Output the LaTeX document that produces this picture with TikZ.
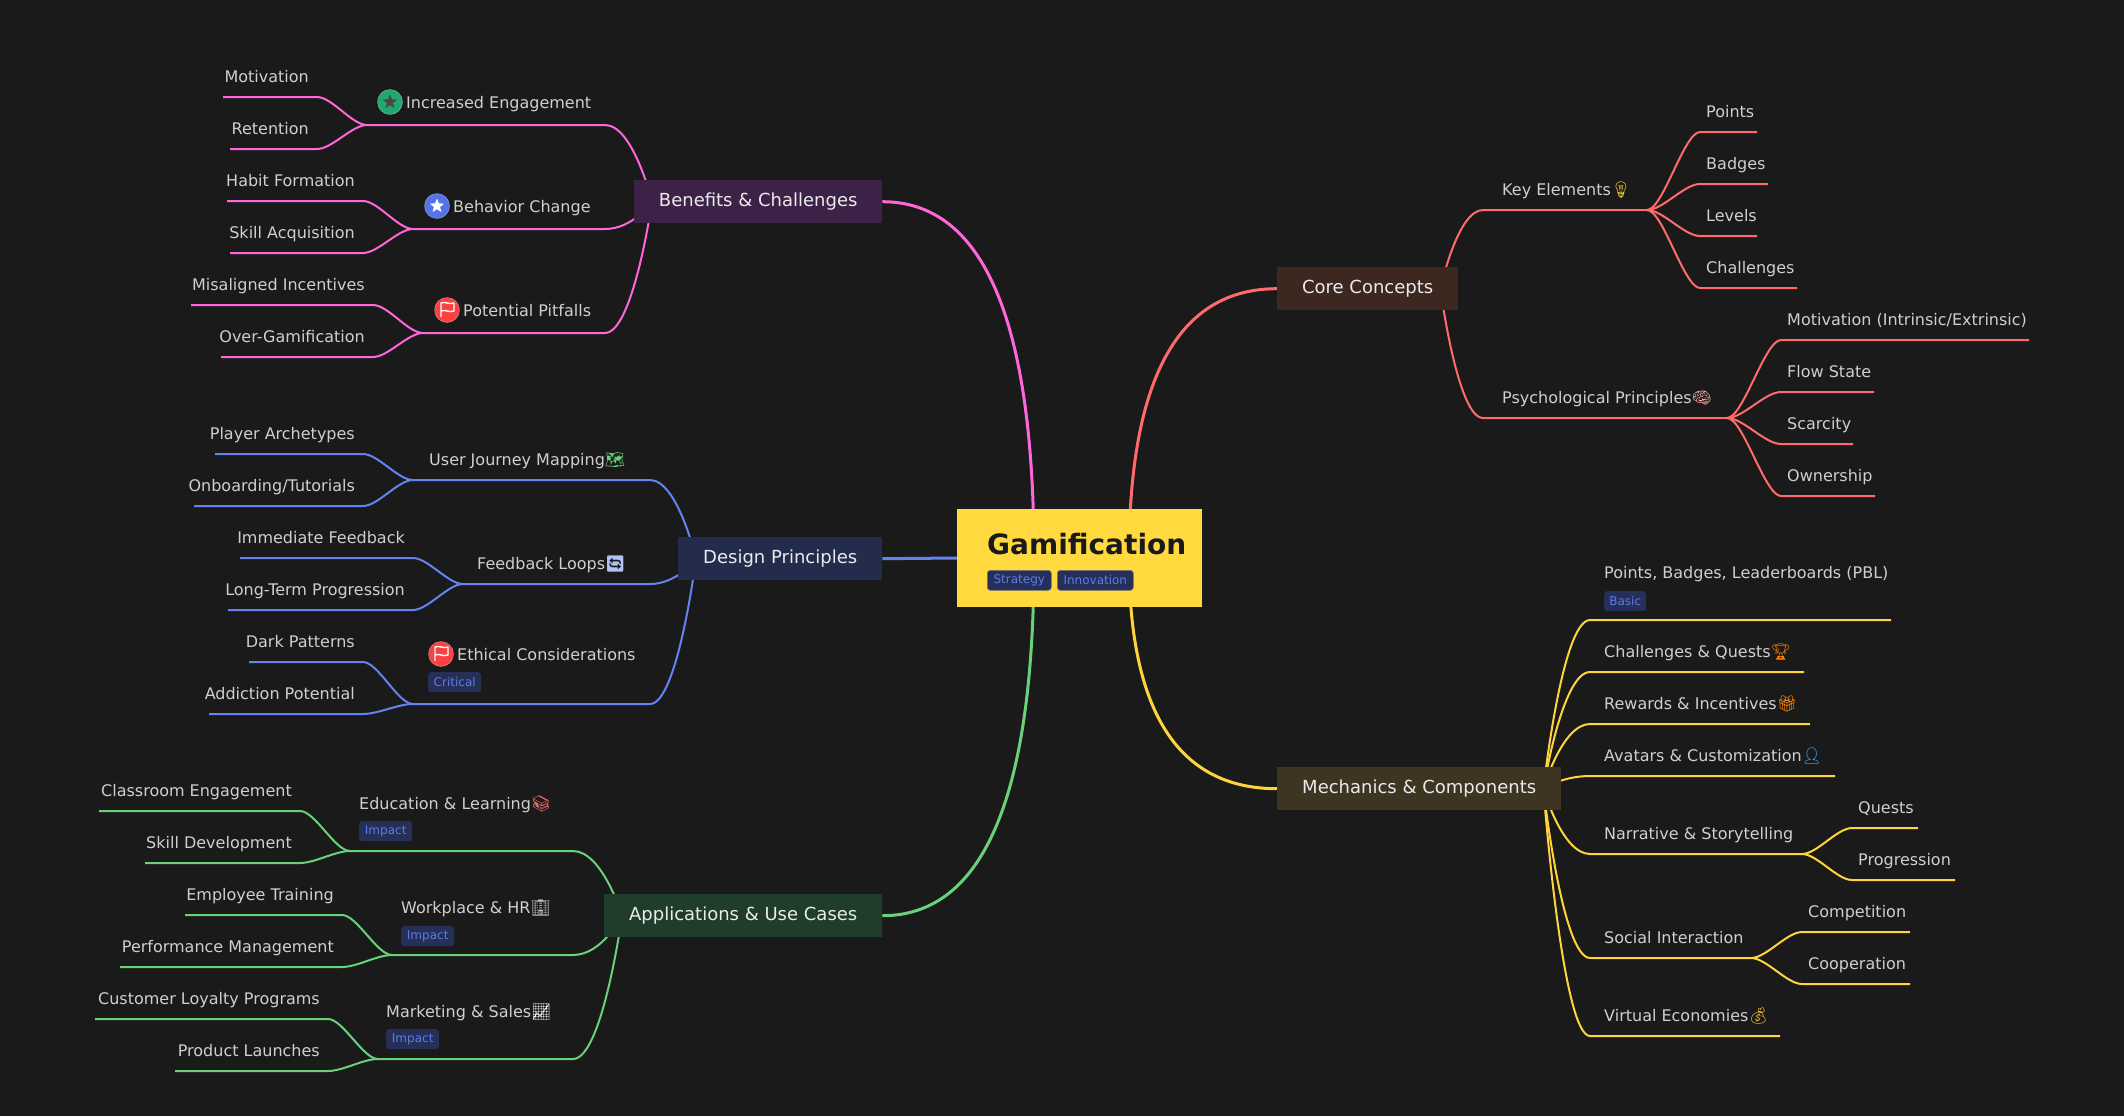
\documentclass[tikz,border=0pt]{standalone}
\usepackage{fontspec}
\setmainfont{DejaVu Sans}
\newfontfamily\emofont{Noto Emoji}
\usetikzlibrary{calc,shapes.geometric}
\definecolor{bgc}{HTML}{1A1A1A}
\definecolor{cred}{HTML}{FF6B6B}
\definecolor{cyel}{HTML}{FFD43B}
\definecolor{cpnk}{HTML}{FF66D9}
\definecolor{cblu}{HTML}{6384F0}
\definecolor{cgrn}{HTML}{69D17A}
\definecolor{rootc}{HTML}{FFD93D}
\definecolor{txtc}{HTML}{CFCFCF}
\definecolor{tagf}{HTML}{252F57}
\definecolor{tagt}{HTML}{5C7CEA}
\pgfdeclarelayer{back}\pgfdeclarelayer{links}
\pgfsetlayers{back,links,main}
\newcommand\emo[2]{{\emofont\textcolor{#1}{#2}}}
% #1 colour, #2 origin, #3 name, #4 curve end x, #5 y, #6 far end x
\newcommand\limb[6]{%
  \coordinate (#3c) at (#4,#5);\coordinate (#3) at (#6,#5);
  \begin{pgfonlayer}{links}
  \draw[sublink,#1] (#2) .. controls (#2) and ($(#2|-#3c)!0.4!(#3c)$) .. (#3c) -- (#3);
  \end{pgfonlayer}}
% #1 colour, #2 junction, #3 name, #4 curve end x, #5 y, #6 far end x, #7 text
\newcommand\twig[6]{%
  \coordinate (#3c) at (#4,#5);\coordinate (#3) at (#6,#5);
  \begin{pgfonlayer}{links}
  \draw[sublink,#1] (#2) .. controls ($(#2)!0.3!(#2-|#3c)$) and ($(#3c)!0.3!(#3c-|#2)$) .. (#3c) -- (#3);
  \end{pgfonlayer}}
\newcommand\twigL[7]{\twig{#1}{#2}{#3}{#4}{#5}{#6}%
  \node[lab,anchor=base east] (#3t) at ($(#3c)+(-8,-15)$) {#7};}
\newcommand\twigR[7]{\twig{#1}{#2}{#3}{#4}{#5}{#6}%
  \node[lab,anchor=base west] (#3t) at ($(#3c)+(6,-15)$) {#7};}
% quadratic main link
\newcommand\mainlink[3]{%
  \begin{pgfonlayer}{links}
  \draw[mainl,#1] (#2) .. controls ($(#2)!0.667!(#2|-#3)$) and ($(#3)!0.667!(#2|-#3)$) .. (#3);
  \end{pgfonlayer}}
\tikzset{
  x=1pt,y=-1pt,
  lab/.style={text=txtc,inner sep=0pt,font=\fontsize{16}{19}\selectfont},
  sublink/.style={line width=2pt,line cap=butt},
  mainl/.style={line width=3pt},
  topic/.style={rectangle,inner sep=0pt,text=white!92!black,font=\fontsize{18}{22}\selectfont,minimum height=43pt},
  tagn/.style={rectangle,rounded corners=3pt,fill=tagf,text=tagt,inner sep=0pt,minimum height=20pt,font=\fontsize{12}{14}\selectfont},
  icon/.style={circle,draw=white,draw opacity=.35,line width=.6pt,inner sep=0pt,minimum size=25pt},
  flagp/.style={draw=white,line width=1.4pt,line join=round,fill=none},
  starn/.style={star,star points=5,star point ratio=2.3,inner sep=0pt,minimum size=15pt}
}
\begin{document}
\begin{tikzpicture}
\useasboundingbox (0,0) rectangle (2124,1116);
\begin{pgfonlayer}{back}
\fill[bgc] (0,0) rectangle (2124,1116);
\end{pgfonlayer}
% ---- root
\node[rectangle,fill=rootc,minimum width=245pt,minimum height=98pt,inner sep=0pt] (root) at (1079.5,558) {};
\node[anchor=base west,inner sep=0pt,text=bgc,font=\fontsize{28}{32}\selectfont\bfseries] (title) at (987,554) {Gamification};
\node[tagn,draw=white!40!bgc,line width=.6pt,anchor=north west,minimum width=64pt] (tagS) at (987,570) {Strategy};
\node[tagn,draw=white!40!bgc,line width=.6pt,anchor=north west,minimum width=76pt] (tagI) at (1057,570) {Innovation};
\coordinate (rL) at (1034,558);
\coordinate (rR) at (1129,558);
% ---- main topics
\node[topic,fill=black!0!bgc,minimum width=181pt,anchor=north west,fill={rgb,255:red,61;green,40;blue,32}] (core) at (1277,267) {Core Concepts};
\node[topic,minimum width=284pt,anchor=north west,fill={rgb,255:red,61;green,52;blue,34}] (mech) at (1277,767) {Mechanics \& Components};
\node[topic,minimum width=248pt,anchor=north west,fill={rgb,255:red,61;green,34;blue,72}] (bene) at (634,180) {Benefits \& Challenges};
\node[topic,minimum width=204pt,anchor=north west,fill={rgb,255:red,36;green,44;blue,77}] (desi) at (678,537) {Design Principles};
\node[topic,minimum width=278pt,anchor=north west,fill={rgb,255:red,31;green,61;blue,42}] (appl) at (604,894) {Applications \& Use Cases};
\mainlink{cred}{rR}{core.west}
\mainlink{cyel}{rR}{mech.west}
\mainlink{cpnk}{rL}{bene.east}
\mainlink{cgrn}{rL}{appl.east}
\begin{pgfonlayer}{links}
\draw[mainl,cblu] (desi.east) -- (root.west);
\end{pgfonlayer}
\coordinate (oCore) at ($(core.east)+(-18,0)$);
\coordinate (oMech) at ($(mech.east)+(-18,0)$);
\coordinate (oBene) at ($(bene.west)+(18,0)$);
\coordinate (oDesi) at ($(desi.west)+(18,0)$);
\coordinate (oAppl) at ($(appl.west)+(18,0)$);
% ---- Core Concepts
\limb{cred}{oCore}{key}{1483}{210}{1647}
\node[lab,anchor=base west] (keyt) at (1502,195) {Key Elements\emo{cyel}{💡}};
\twigR{cred}{key}{kA}{1700}{132}{1757}{Points}
\twigR{cred}{key}{kB}{1700}{184}{1768}{Badges}
\twigR{cred}{key}{kC}{1700}{236}{1757}{Levels}
\twigR{cred}{key}{kD}{1700}{288}{1797}{Challenges}
\limb{cred}{oCore}{psy}{1483}{418}{1727}
\node[lab,anchor=base west] (psyt) at (1502,403) {Psychological Principles\emo{cred!60!white}{🧠}};
\twigR{cred}{psy}{pA}{1781}{340}{2029}{Motivation (Intrinsic/Extrinsic)}
\twigR{cred}{psy}{pB}{1781}{392}{1874}{Flow State}
\twigR{cred}{psy}{pC}{1781}{444}{1853}{Scarcity}
\twigR{cred}{psy}{pD}{1781}{496}{1875}{Ownership}
% ---- Mechanics
\limb{cyel}{oMech}{pbl}{1590}{620}{1891}
\node[lab,anchor=base west] (pblt) at (1604,578) {Points, Badges, Leaderboards (PBL)};
\node[tagn,anchor=north west,minimum width=42pt] (pbltag) at (1604,591) {Basic};
\limb{cyel}{oMech}{cha}{1590}{672}{1804}
\node[lab,anchor=base west] (chat) at (1604,657) {Challenges \& Quests\emo{orange}{🏆}};
\limb{cyel}{oMech}{rew}{1590}{724}{1810}
\node[lab,anchor=base west] (rewt) at (1604,709) {Rewards \& Incentives\emo{orange}{🎁}};
\limb{cyel}{oMech}{ava}{1590}{776}{1835}
\node[lab,anchor=base west] (avat) at (1604,761) {Avatars \& Customization\emo{cblu!70!cyan}{👤}};
\limb{cyel}{oMech}{nar}{1590}{854}{1802}
\node[lab,anchor=base west] (nart) at (1604,839) {Narrative \& Storytelling};
\twigR{cyel}{nar}{nA}{1852}{828}{1918}{Quests}
\twigR{cyel}{nar}{nB}{1852}{880}{1955}{Progression}
\limb{cyel}{oMech}{soc}{1590}{958}{1751}
\node[lab,anchor=base west] (soct) at (1604,943) {Social Interaction};
\twigR{cyel}{soc}{sA}{1802}{932}{1910}{Competition}
\twigR{cyel}{soc}{sB}{1802}{984}{1910}{Cooperation}
\limb{cyel}{oMech}{vir}{1590}{1036}{1780}
\node[lab,anchor=base west] (virt) at (1604,1021) {Virtual Economies\emo{cyel!80!orange}{💰}};
% ---- Benefits
\limb{cpnk}{oBene}{inc}{605}{125}{367}
\node[lab,anchor=base west] (inct) at (406,108) {Increased Engagement};
\node[icon,fill={rgb,255:red,31;green,169;blue,113}] (incI) at (390,102) {};
\node[starn,fill=bgc!80!white] (incS) at (incI) {};
\twigL{cpnk}{inc}{iA}{317}{97}{223}{Motivation}
\twigL{cpnk}{inc}{iB}{317}{149}{230}{Retention}
\limb{cpnk}{oBene}{beh}{605}{229}{413}
\node[lab,anchor=base west] (beht) at (453,212) {Behavior Change};
\node[icon,fill={rgb,255:red,84;green,115;blue,235}] (behI) at (437,206) {};
\node[starn,fill=white] (behS) at (behI) {};
\twigL{cpnk}{beh}{bA}{363}{201}{227}{Habit Formation}
\twigL{cpnk}{beh}{bB}{363}{253}{230}{Skill Acquisition}
\limb{cpnk}{oBene}{pit}{605}{333}{423}
\node[lab,anchor=base west] (pitt) at (463,316) {Potential Pitfalls};
\node[icon,fill={rgb,255:red,250;green,64;blue,64}] (pitI) at (447,310) {};
\draw[flagp] ([shift={(-6,7)}]pitI.center) -- ([shift={(-6,-7)}]pitI.center) .. controls ([shift={(-2,-9)}]pitI.center) and ([shift={(2,-5)}]pitI.center) .. ([shift={(7,-7)}]pitI.center) -- ([shift={(7,1)}]pitI.center) .. controls ([shift={(2,3)}]pitI.center) and ([shift={(-2,-1)}]pitI.center) .. ([shift={(-6,1)}]pitI.center);
\twigL{cpnk}{pit}{qA}{373}{305}{191}{Misaligned Incentives}
\twigL{cpnk}{pit}{qB}{373}{357}{221}{Over-Gamification}
% ---- Design
\limb{cblu}{oDesi}{jou}{650}{480}{413}
\node[lab,anchor=base west] (jout) at (429,465) {User Journey Mapping\emo{cgrn}{🗺}};
\twigL{cblu}{jou}{jA}{363}{454}{215}{Player Archetypes}
\twigL{cblu}{jou}{jB}{363}{506}{194}{Onboarding/Tutorials}
\limb{cblu}{oDesi}{fee}{650}{584}{463}
\node[lab,anchor=base west] (feet) at (477,569) {Feedback Loops\emo{cblu!50!white}{🔄}};
\twigL{cblu}{fee}{fA}{413}{558}{240}{Immediate Feedback}
\twigL{cblu}{fee}{fB}{413}{610}{228}{Long-Term Progression}
\limb{cblu}{oDesi}{eth}{650}{704}{413}
\node[lab,anchor=base west] (etht) at (457,660) {Ethical Considerations};
\node[icon,fill={rgb,255:red,250;green,64;blue,64}] (ethI) at (441,654) {};
\draw[flagp] ([shift={(-6,7)}]ethI.center) -- ([shift={(-6,-7)}]ethI.center) .. controls ([shift={(-2,-9)}]ethI.center) and ([shift={(2,-5)}]ethI.center) .. ([shift={(7,-7)}]ethI.center) -- ([shift={(7,1)}]ethI.center) .. controls ([shift={(2,3)}]ethI.center) and ([shift={(-2,-1)}]ethI.center) .. ([shift={(-6,1)}]ethI.center);
\node[tagn,anchor=north west,minimum width=53pt] (ethtag) at (428,672) {Critical};
\twigL{cblu}{eth}{eA}{363}{662}{249}{Dark Patterns}
\twigL{cblu}{eth}{eB}{363}{714}{209}{Addiction Potential}
% ---- Applications
\limb{cgrn}{oAppl}{edu}{573}{851}{350}
\node[lab,anchor=base west] (edut) at (359,809) {Education \& Learning\emo{cred}{📚}};
\node[tagn,anchor=north west,minimum width=53pt] (edutag) at (359,821) {Impact};
\twigL{cgrn}{edu}{aA}{300}{811}{99}{Classroom Engagement}
\twigL{cgrn}{edu}{aB}{300}{863}{145}{Skill Development}
\limb{cgrn}{oAppl}{wor}{573}{955}{392}
\node[lab,anchor=base west] (wort) at (401,913) {Workplace \& HR\emo{white!75!black}{🏢}};
\node[tagn,anchor=north west,minimum width=53pt] (wortag) at (401,926) {Impact};
\twigL{cgrn}{wor}{wA}{342}{915}{185}{Employee Training}
\twigL{cgrn}{wor}{wB}{342}{967}{120}{Performance Management}
\limb{cgrn}{oAppl}{mar}{573}{1059}{378}
\node[lab,anchor=base west] (mart) at (386,1017) {Marketing \& Sales\emo{white}{📈}};
\node[tagn,anchor=north west,minimum width=53pt] (martag) at (386,1029) {Impact};
\twigL{cgrn}{mar}{mA}{328}{1019}{95}{Customer Loyalty Programs}
\twigL{cgrn}{mar}{mB}{328}{1071}{175}{Product Launches}
\end{tikzpicture}
\end{document}
